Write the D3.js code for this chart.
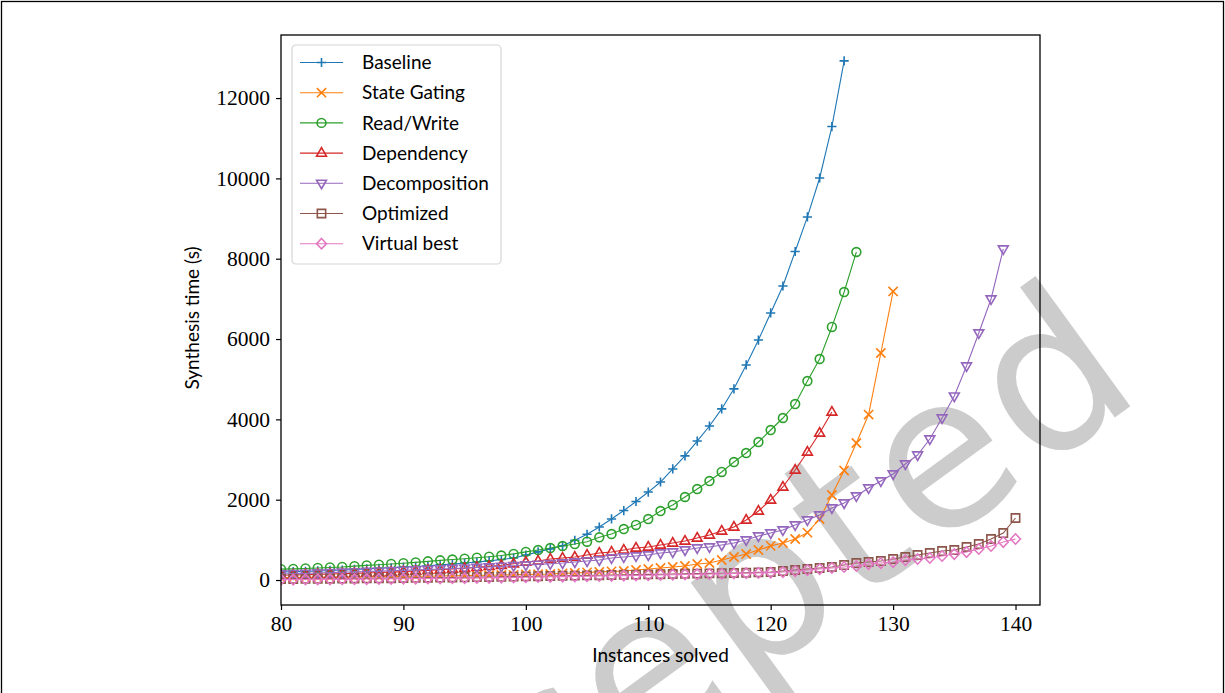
<!DOCTYPE html>
<html>
<head>
<meta charset="utf-8">
<script src="https://cdn.jsdelivr.net/npm/d3@7"></script>
<style>
  body { margin: 0; background: #fff; }
  svg { display: block; }
</style>
</head>
<body>
<div id="chart"></div>
<script>
// instances solved (x) and synthesis times (s)
var instances = [80, 81, 82, 83, 84, 85, 86, 87, 88, 89, 90, 91, 92, 93, 94, 95, 96, 97, 98, 99,
  100, 101, 102, 103, 104, 105, 106, 107, 108, 109, 110, 111, 112, 113, 114, 115, 116, 117, 118, 119,
  120, 121, 122, 123, 124, 125, 126, 127, 128, 129, 130, 131, 132, 133, 134, 135, 136, 137, 138, 139, 140];

var baseline = [200, 208, 216, 226, 238, 250, 263, 277, 292, 306,
  322, 338, 356, 376, 398, 422, 448, 477, 510, 548,
  620, 700, 775, 855, 990, 1140, 1320, 1520, 1730, 1955,
  2190, 2440, 2765, 3090, 3460, 3835, 4260, 4760, 5355, 5975,
  6650, 7320, 8180, 9040, 10010, 11290, 12925];

var stateGating = [60, 62, 65, 68, 70, 72, 75, 78, 80, 85,
  88, 92, 95, 100, 105, 110, 115, 120, 125, 130,
  140, 145, 150, 165, 175, 190, 200, 215, 225, 249,
  274, 299, 324, 349, 398, 423, 498, 573, 647, 747,
  850, 921, 1021, 1180, 1519, 2116, 2727, 3411, 4120, 5652,
  7185];

var readWrite = [270, 278, 288, 300, 312, 325, 345, 365, 382, 400,
  418, 440, 465, 490, 510, 530, 555, 580, 610, 650,
  700, 747, 797, 847, 896, 954, 1063, 1145, 1270, 1370,
  1519, 1718, 1868, 2067, 2266, 2465, 2690, 2938, 3162, 3436,
  3735, 4034, 4382, 4955, 5503, 6300, 7171, 8167];

var dependency = [120, 125, 132, 140, 148, 157, 166, 176, 186, 197,
  210, 224, 240, 256, 274, 294, 316, 340, 368, 405,
  448, 473, 523, 548, 573, 622, 672, 697, 747, 797,
  822, 871, 921, 971, 1046, 1120, 1220, 1320, 1494, 1718,
  1992, 2316, 2739, 3187, 3660, 4183];

var decomposition = [150, 158, 166, 175, 184, 193, 202, 212, 222, 232,
  242, 252, 263, 274, 286, 298, 311, 325, 340, 356,
  373, 390, 405, 423, 448, 473, 498, 548, 573, 598,
  622, 672, 697, 747, 797, 822, 871, 921, 996, 1096,
  1170, 1245, 1370, 1494, 1619, 1793, 1917, 2092, 2291, 2465,
  2639, 2888, 3112, 3511, 4034, 4580, 5329, 6150, 6997, 8242];

var optimized = [25, 27, 29, 31, 33, 35, 38, 40, 43, 46,
  50, 53, 57, 60, 64, 68, 72, 76, 80, 85,
  90, 95, 100, 105, 110, 115, 120, 125, 130, 135,
  140, 145, 150, 155, 160, 165, 170, 175, 180, 190,
  199, 224, 249, 274, 299, 324, 373, 423, 448, 473,
  523, 573, 622, 672, 722, 747, 822, 896, 1021, 1170,
  1544];

var virtualBest = [10, 12, 14, 16, 18, 20, 22, 24, 27, 30,
  33, 36, 39, 42, 45, 48, 52, 56, 60, 65,
  70, 75, 80, 85, 90, 95, 100, 105, 110, 115,
  120, 126, 132, 138, 144, 150, 156, 163, 170, 177,
  185, 199, 224, 249, 274, 299, 324, 349, 398, 423,
  448, 498, 523, 548, 598, 647, 697, 772, 847, 946,
  1021];

var seriesNames = ["Baseline", "State Gating", "Read/Write", "Dependency", "Decomposition", "Optimized", "Virtual best"];
var seriesValues = [baseline, stateGating, readWrite, dependency, decomposition, optimized, virtualBest];
var seriesMarkers = ["plus", "x", "circle", "triangleUp", "triangleDown", "square", "diamond"];
var seriesColors = ["#1f77b4", "#ff7f0e", "#2ca02c", "#d62728", "#9467bd", "#8c564b", "#e377c2"];

var xTicks = [80, 90, 100, 110, 120, 130, 140];
var yTicks = [0, 2000, 4000, 6000, 8000, 10000, 12000];

var W = 1225, H = 693;
var margin = {top: 35, right: 185, bottom: 88, left: 281},
    width = W - margin.left - margin.right,
    height = H - margin.top - margin.bottom;

var svg = d3.select("#chart")
  .append("svg")
    .attr("width", W)
    .attr("height", H);

// page border
svg.append("rect")
  .attr("x", 1.5).attr("y", 1.5)
  .attr("width", W - 3).attr("height", H + 10)
  .attr("fill", "none")
  .attr("stroke", "#000")
  .attr("stroke-width", 1.3);

// "Accepted" watermark, behind the plot
svg.append("text")
  .attr("transform", "translate(1150,392) rotate(-36)")
  .attr("text-anchor", "end")
  .style("font-family", "'DejaVu Sans', sans-serif")
  .style("font-size", "212px")
  .style("letter-spacing", "5px")
  .attr("fill", "#cccccc")
  .text("Accepted");

var g = svg.append("g")
  .attr("transform", "translate(" + margin.left + "," + margin.top + ")");

var x = d3.scaleLinear()
  .domain([80, 142])
  .range([0, width]);

var y = d3.scaleLinear()
  .domain([-622, 13570])
  .range([height, 0]);

g.append("clipPath").attr("id", "plotclip")
  .append("rect").attr("width", width).attr("height", height);

// marker shapes, stroked only
function markerPath(type, s) {
  switch (type) {
    case "plus": return "M" + (-s) + ",0H" + s + "M0," + (-s) + "V" + s;
    case "x": return "M" + (-s) + "," + (-s) + "L" + s + "," + s + "M" + (-s) + "," + s + "L" + s + "," + (-s);
    case "triangleUp": return "M0," + (-s * 1.05) + "L" + (s * 0.95) + "," + (s * 0.6) + "L" + (-s * 0.95) + "," + (s * 0.6) + "Z";
    case "triangleDown": return "M0," + (s * 1.05) + "L" + (s * 0.95) + "," + (-s * 0.6) + "L" + (-s * 0.95) + "," + (-s * 0.6) + "Z";
    case "square": return "M" + (-s * 0.8) + "," + (-s * 0.8) + "H" + (s * 0.8) + "V" + (s * 0.8) + "H" + (-s * 0.8) + "Z";
    case "diamond": return "M0," + (-s) + "L" + (s * 0.95) + ",0L0," + s + "L" + (-s * 0.95) + ",0Z";
  }
  return null;
}

function drawMarker(sel, type, color) {
  var s = (type === "plus" || type === "x") ? 4.6 : 5.2;
  if (type === "circle") {
    sel.append("circle").attr("r", s * 0.85)
      .attr("fill", "none").attr("stroke", color).attr("stroke-width", 1.6);
  } else {
    sel.append("path").attr("d", markerPath(type, s))
      .attr("fill", "none").attr("stroke", color).attr("stroke-width", 1.6);
  }
}

var plot = g.append("g").attr("clip-path", "url(#plotclip)");

var line = d3.line()
  .x(function(d) { return x(d.x); })
  .y(function(d) { return y(d.v); });

seriesValues.forEach(function(vals, k) {
  var pts = vals.map(function(v, i) { return {x: instances[i], v: v}; });
  var sg = plot.append("g");
  sg.append("path")
    .datum(pts)
    .attr("d", line)
    .attr("fill", "none")
    .attr("stroke", seriesColors[k])
    .attr("stroke-width", 1.1);
  sg.selectAll("g.m")
    .data(pts)
    .enter().append("g")
      .attr("class", "m")
      .attr("transform", function(d) { return "translate(" + x(d.x) + "," + y(d.v) + ")"; })
      .each(function() { drawMarker(d3.select(this), seriesMarkers[k], seriesColors[k]); });
});

// axes
var xAxis = g.append("g")
  .attr("transform", "translate(0," + height + ")")
  .call(d3.axisBottom(x).tickValues(xTicks).tickSize(5).tickPadding(6));
var yAxis = g.append("g")
  .call(d3.axisLeft(y).tickValues(yTicks).tickSize(5).tickPadding(6).tickFormat(d3.format("d")));

[xAxis, yAxis].forEach(function(a) {
  a.select(".domain").remove();
  a.selectAll(".tick line").attr("stroke", "#000").attr("stroke-width", 1.2);
  a.selectAll(".tick text")
    .style("font-family", "'Liberation Serif', 'DejaVu Serif', serif")
    .style("font-size", "21.5px")
    .attr("fill", "#000");
});

// frame
g.append("rect")
  .attr("width", width).attr("height", height)
  .attr("fill", "none").attr("stroke", "#000").attr("stroke-width", 1.3);

// axis labels
g.append("text")
  .attr("x", width / 2)
  .attr("y", height + 57)
  .style("text-anchor", "middle")
  .style("font-family", "Lato, 'DejaVu Sans', sans-serif")
  .style("font-size", "19px")
  .text("Instances solved");

g.append("text")
  .attr("transform", "rotate(-90)")
  .attr("x", -(height / 2) + 2)
  .attr("y", -82)
  .style("text-anchor", "middle")
  .style("font-family", "Lato, 'DejaVu Sans', sans-serif")
  .style("font-size", "19px")
  .text("Synthesis time (s)");

// legend
var legend = g.append("g").attr("transform", "translate(11,10)");
legend.append("rect")
  .attr("width", 209).attr("height", 219)
  .attr("rx", 4).attr("ry", 4)
  .attr("fill", "#fff").attr("fill-opacity", 0.8)
  .attr("stroke", "#d6d6d6").attr("stroke-width", 1.2);

seriesNames.forEach(function(name, k) {
  var row = legend.append("g").attr("transform", "translate(0," + (17.5 + k * 30.2) + ")");
  row.append("line")
    .attr("x1", 8).attr("x2", 51)
    .attr("stroke", seriesColors[k]).attr("stroke-width", 1.1);
  var m = row.append("g").attr("transform", "translate(29.5,0)");
  drawMarker(m, seriesMarkers[k], seriesColors[k]);
  row.append("text")
    .attr("x", 70).attr("dy", "0.35em")
    .style("font-family", "Lato, 'DejaVu Sans', sans-serif")
    .style("font-size", "19px")
    .text(name);
});
</script>
</body>
</html>
